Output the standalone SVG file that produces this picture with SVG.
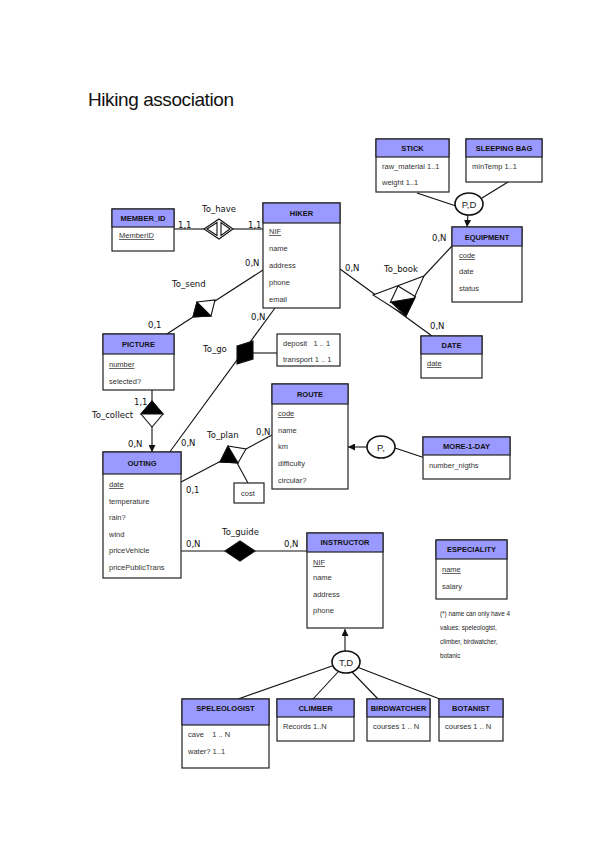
<svg xmlns="http://www.w3.org/2000/svg" width="599" height="848" viewBox="0 0 599 848">
<style>
.box{fill:#fff;stroke:#222;stroke-width:1.2}
.hd{fill:#9999ff;stroke:#222;stroke-width:1.2}
.en{font-family:"Liberation Sans",Arial,sans-serif;font-size:7.5px;font-weight:bold;fill:#111;text-anchor:middle}
.at{font-family:"Liberation Sans",Arial,sans-serif;font-size:7.5px;fill:#333;white-space:pre}
.u{text-decoration:underline}
.lb{font-family:"DejaVu Sans",sans-serif;font-size:8.5px;fill:#111}
.ln{stroke:#111;stroke-width:1.1;fill:none}
.wf{fill:#fff;stroke:#111;stroke-width:1.1}
.bf{fill:#000;stroke:#111;stroke-width:1.1}
.ci{fill:#fff;stroke:#111;stroke-width:1.6}
.ct{font-family:"Liberation Sans",Arial,sans-serif;font-size:9.5px;fill:#222;text-anchor:middle}
.nt{font-family:"Liberation Sans",Arial,sans-serif;font-size:6.3px;fill:#222}
</style>
<defs>
<marker id="ar" viewBox="0 0 10 10" refX="10" refY="5" markerWidth="7" markerHeight="7" orient="auto" markerUnits="userSpaceOnUse"><path d="M0,0 L10,5 L0,10 z" fill="#111"/></marker>
</defs>

<text x="88" y="106" font-family="Liberation Sans,Arial,sans-serif" font-size="19" fill="#111" textLength="146">Hiking association</text>

<g id="connectors">
<line class="ln" x1="174" y1="229" x2="204" y2="229"/>
<line class="ln" x1="233" y1="229" x2="263" y2="229"/>
<line class="ln" x1="263" y1="270" x2="215" y2="301"/>
<line class="ln" x1="193" y1="317" x2="153" y2="343"/>
<line class="ln" x1="275" y1="308" x2="169" y2="453"/>
<line class="ln" x1="253" y1="353" x2="277" y2="353"/>
<line class="ln" x1="340" y1="269" x2="432" y2="336"/>
<line class="ln" x1="424" y1="276" x2="452" y2="246"/>
<line class="ln" x1="417" y1="193" x2="456" y2="206"/>
<line class="ln" x1="508" y1="182" x2="482" y2="198"/>
<line class="ln" x1="468" y1="215" x2="467" y2="227" marker-end="url(#ar)"/>
<line class="ln" x1="152" y1="390" x2="152" y2="401"/>
<line class="ln" x1="152" y1="427" x2="152" y2="452" marker-end="url(#ar)"/>
<line class="ln" x1="181" y1="482" x2="221" y2="461"/>
<line class="ln" x1="246" y1="449" x2="272" y2="435"/>
<line class="ln" x1="236" y1="461" x2="248" y2="483"/>
<line class="ln" x1="367" y1="447" x2="348" y2="447" marker-end="url(#ar)"/>
<line class="ln" x1="395" y1="448" x2="428" y2="459"/>
<line class="ln" x1="181" y1="551" x2="307" y2="551"/>
<line class="ln" x1="345" y1="651" x2="345" y2="629" marker-end="url(#ar)"/>
<line class="ln" x1="332" y1="666" x2="238" y2="699"/>
<line class="ln" x1="338" y1="672" x2="313" y2="699"/>
<line class="ln" x1="352" y1="672" x2="378" y2="699"/>
<line class="ln" x1="357" y1="667" x2="463" y2="708"/>
</g>

<g id="rel-to_have">
<polygon class="wf" points="204,229 219,219 233,229 219,239"/>
<polygon class="ln" points="207,229 217,222.5 217,235.5"/>
<polygon class="ln" points="230,229 221,222.5 221,235.5"/>
<text class="lb" x="202" y="212">To_have</text>
<text class="lb" x="178" y="228">1,1</text>
<text class="lb" x="248" y="228">1,1</text>
</g>

<g id="rel-to_send">
<polygon class="wf" points="197,302 215,300 211,316 193,317"/>
<polygon class="bf" points="197,302 193,317 211,316"/>
<text class="lb" x="172" y="287">To_send</text>
<text class="lb" x="245" y="266">0,N</text>
<text class="lb" x="148" y="328">0,1</text>
</g>

<g id="rel-to_go">
<polygon class="bf" points="237,346 253,341 253,359 237,364"/>
<text class="lb" x="203" y="352">To_go</text>
<text class="lb" x="251" y="320">0,N</text>
<text class="lb" x="181" y="446">0,N</text>
<rect class="box" x="277" y="334" width="63" height="32"/>
<text class="at" x="283" y="346" xml:space="preserve">deposit   1 .. 1</text>
<text class="at" x="283" y="362" xml:space="preserve">transport 1 .. 1</text>
</g>

<g id="rel-to_book">
<polygon class="wf" points="373,295 424,276 406,316"/>
<line class="ln" x1="398" y1="286" x2="390" y2="303"/>
<line class="ln" x1="398" y1="286" x2="416" y2="297"/>
<polygon class="bf" points="391,302 415,298 406,316"/>
<text class="lb" x="384" y="272">To_book</text>
<text class="lb" x="345" y="271">0,N</text>
<text class="lb" x="432" y="241">0,N</text>
<text class="lb" x="430" y="329">0,N</text>
</g>

<g id="isa-pd">
<ellipse class="ci" cx="469" cy="204" rx="14" ry="11"/>
<text class="ct" x="469" y="208">P,D</text>
</g>

<g id="rel-to_collect">
<polygon class="wf" points="152,401 163,414 152,427 141,414"/>
<polygon class="bf" points="152,401 163,414 141,414"/>
<text class="lb" x="134" y="405">1,1</text>
<text class="lb" x="92" y="418">To_collect</text>
<text class="lb" x="128" y="447">0,N</text>
</g>

<g id="rel-to_plan">
<polygon class="wf" points="228,446 246,449 238,463 220,462"/>
<polygon class="bf" points="228,446 238,463 220,462"/>
<text class="lb" x="207" y="438">To_plan</text>
<text class="lb" x="256" y="435">0,N</text>
<text class="lb" x="186" y="493">0,1</text>
<rect class="box" x="234" y="483" width="30" height="20"/>
<text class="at" x="241" y="496">cost</text>
</g>

<g id="isa-p">
<ellipse class="ci" cx="381" cy="447" rx="14" ry="11"/>
<text class="ct" x="381" y="451">P,</text>
</g>

<g id="rel-to_guide">
<polygon class="bf" points="225,551 240,541 255,551 240,561"/>
<text class="lb" x="222" y="535">To_guide</text>
<text class="lb" x="186" y="547">0,N</text>
<text class="lb" x="284" y="547">0,N</text>
</g>

<g id="isa-td">
<ellipse class="ci" cx="346" cy="662" rx="14" ry="11"/>
<text class="ct" x="346" y="666">T,D</text>
</g>

<g id="member_id">
<rect class="box" x="112" y="209" width="62" height="42"/>
<rect class="hd" x="112" y="209" width="62" height="18"/>
<text class="en" x="143" y="221">MEMBER_ID</text>
<text class="at u" x="119" y="238">MemberID</text>
</g>

<g id="hiker">
<rect class="box" x="263" y="203" width="77" height="105"/>
<rect class="hd" x="263" y="203" width="77" height="20"/>
<text class="en" x="301.5" y="216">HIKER</text>
<text class="at u" x="269" y="234">NIF</text>
<text class="at" x="269" y="251">name</text>
<text class="at" x="269" y="268">address</text>
<text class="at" x="269" y="285">phone</text>
<text class="at" x="269" y="302">email</text>
</g>

<g id="stick">
<rect class="box" x="376" y="139" width="73" height="53"/>
<rect class="hd" x="376" y="139" width="73" height="18"/>
<text class="en" x="412.5" y="151">STICK</text>
<text class="at" x="382" y="169">raw_material 1..1</text>
<text class="at" x="382" y="185">weight 1..1</text>
</g>

<g id="sleeping_bag">
<rect class="box" x="466" y="139" width="76" height="43"/>
<rect class="hd" x="466" y="139" width="76" height="18"/>
<text class="en" x="504" y="151">SLEEPING BAG</text>
<text class="at" x="472" y="169">minTemp 1..1</text>
</g>

<g id="equipment">
<rect class="box" x="452" y="227" width="70" height="75"/>
<rect class="hd" x="452" y="227" width="70" height="19"/>
<text class="en" x="487" y="240">EQUIPMENT</text>
<text class="at u" x="459" y="258">code</text>
<text class="at" x="459" y="274">date</text>
<text class="at" x="459" y="291">status</text>
</g>

<g id="date">
<rect class="box" x="421" y="336" width="61" height="42"/>
<rect class="hd" x="421" y="336" width="61" height="18"/>
<text class="en" x="451.5" y="348">DATE</text>
<text class="at u" x="427" y="366">date</text>
</g>

<g id="picture">
<rect class="box" x="103" y="334" width="71" height="56"/>
<rect class="hd" x="103" y="334" width="71" height="20"/>
<text class="en" x="138.5" y="347">PICTURE</text>
<text class="at u" x="109" y="367">number</text>
<text class="at" x="109" y="384">selected?</text>
</g>

<g id="route">
<rect class="box" x="272" y="384" width="76" height="105"/>
<rect class="hd" x="272" y="384" width="76" height="20"/>
<text class="en" x="310" y="397">ROUTE</text>
<text class="at u" x="278" y="416">code</text>
<text class="at" x="278" y="433">name</text>
<text class="at" x="278" y="449">km</text>
<text class="at" x="278" y="466">difficulty</text>
<text class="at" x="278" y="483">circular?</text>
</g>

<g id="more_1_day">
<rect class="box" x="423" y="437" width="87" height="42"/>
<rect class="hd" x="423" y="437" width="87" height="18"/>
<text class="en" x="466.5" y="449">MORE-1-DAY</text>
<text class="at" x="429" y="468">number_nigths</text>
</g>

<g id="outing">
<rect class="box" x="103" y="452" width="78" height="126"/>
<rect class="hd" x="103" y="452" width="78" height="22"/>
<text class="en" x="142" y="466">OUTING</text>
<text class="at u" x="109" y="487">date</text>
<text class="at" x="109" y="504">temperature</text>
<text class="at" x="109" y="520">rain?</text>
<text class="at" x="109" y="537">wind</text>
<text class="at" x="109" y="553">priceVehicle</text>
<text class="at" x="109" y="570">pricePublicTrans</text>
</g>

<g id="instructor">
<rect class="box" x="307" y="533" width="76" height="95"/>
<rect class="hd" x="307" y="533" width="76" height="19"/>
<text class="en" x="345" y="545">INSTRUCTOR</text>
<text class="at u" x="313" y="565">NIF</text>
<text class="at" x="313" y="580">name</text>
<text class="at" x="313" y="597">address</text>
<text class="at" x="313" y="613">phone</text>
</g>

<g id="especiality">
<rect class="box" x="436" y="540" width="71" height="59"/>
<rect class="hd" x="436" y="540" width="71" height="19"/>
<text class="en" x="471.5" y="552">ESPECIALITY</text>
<text class="at u" x="442" y="572">name</text>
<text class="at" x="442" y="589">salary</text>
<text class="nt" x="440" y="616">(*) name can only have 4</text>
<text class="nt" x="440" y="630">values: speleologist,</text>
<text class="nt" x="440" y="644">climber, birdwatcher,</text>
<text class="nt" x="440" y="658">botanic</text>
</g>

<g id="speleologist">
<rect class="box" x="182" y="699" width="87" height="69"/>
<rect class="hd" x="182" y="699" width="87" height="26"/>
<text class="en" x="225.5" y="711">SPELEOLOGIST</text>
<text class="at" x="188" y="737" xml:space="preserve">cave    1 .. N</text>
<text class="at" x="188" y="754">water? 1..1</text>
</g>

<g id="climber">
<rect class="box" x="277" y="699" width="77" height="42"/>
<rect class="hd" x="277" y="699" width="77" height="18"/>
<text class="en" x="315.5" y="711">CLIMBER</text>
<text class="at" x="283" y="729">Records 1..N</text>
</g>

<g id="birdwatcher">
<rect class="box" x="367" y="699" width="63" height="42"/>
<rect class="hd" x="367" y="699" width="63" height="18"/>
<text class="en" x="398.5" y="711">BIRDWATCHER</text>
<text class="at" x="373" y="729">courses 1 .. N</text>
</g>

<g id="botanist">
<rect class="box" x="439" y="699" width="64" height="42"/>
<rect class="hd" x="439" y="699" width="64" height="18"/>
<text class="en" x="471" y="711">BOTANIST</text>
<text class="at" x="445" y="729">courses 1 .. N</text>
</g>
</svg>
